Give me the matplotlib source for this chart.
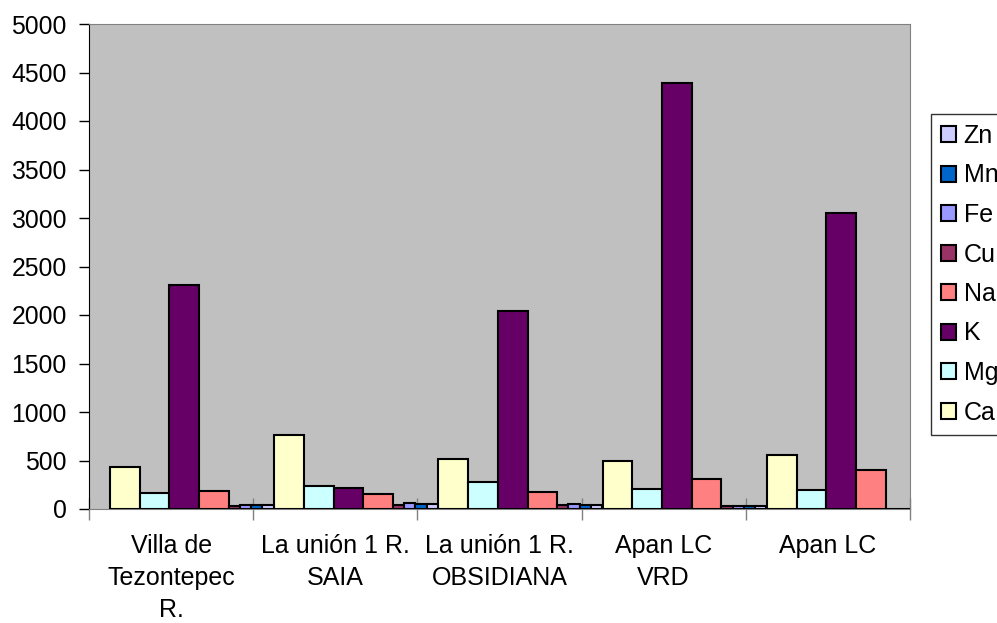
import matplotlib
matplotlib.use("Agg")
import matplotlib.pyplot as plt
import numpy as np
from matplotlib.patches import Patch

plt.rcParams['font.family'] = ['Liberation Sans', 'DejaVu Sans']

categories = ["Villa de\nTezontepec\nR.", "La unión 1 R.\nSAIA", "La unión 1 R.\nOBSIDIANA",
              "Apan LC\nVRD", "Apan LC"]
series_names = ["Ca", "Mg", "K", "Na", "Cu", "Fe", "Mn", "Zn"]
Ca = [430, 760, 520, 490, 560]
Mg = [165, 235, 280, 210, 200]
K = [2310, 220, 2040, 4390, 3050]
Na = [185, 150, 175, 310, 400]
Cu = [35, 45, 40, 30, 0]
Fe = [45, 60, 50, 35, 0]
Mn = [40, 50, 45, 35, 0]
Zn = [40, 50, 45, 30, 0]
yticks = [0, 500, 1000, 1500, 2000, 2500, 3000, 3500, 4000, 4500, 5000]

values = [Ca, Mg, K, Na, Cu, Fe, Mn, Zn]
colors = ["#FFFFCC", "#CCFFFF", "#660066", "#FF8080", "#993366", "#9999FF", "#0066CC", "#CCCCFF"]

W, H = 997, 623
fig = plt.figure(figsize=(W / 100, H / 100), dpi=100)
ax = fig.add_axes([89 / W, 1 - 509 / H, (910 - 89) / W, (509 - 24) / H])
ax.set_facecolor("#C0C0C0")

main_w = 0.181
small_w = 0.068
widths = [main_w] * 4 + [small_w] * 4
offset = 0.128
x = np.arange(len(categories))
for name, vals, col, w in zip(series_names, values, colors, widths):
    ax.bar(x + offset, vals, width=w, align='edge', color=col, edgecolor='black',
           linewidth=1.5, label=name, zorder=3)
    offset += w

ax.set_xlim(0, 5)
ax.set_ylim(0, 5000)
ax.set_yticks(yticks)
ax.set_yticklabels([str(v) for v in yticks], fontsize=17.8)
ax.tick_params(axis='y', direction='out', length=7, width=1, pad=9, colors='black')

ax.set_xticks(np.arange(0, 6))
ax.set_xticklabels([])
ax.tick_params(axis='x', which='major', direction='inout', length=16, width=1, color='#808080')
ax.set_xticks(x + 0.5, minor=True)
ax.set_xticklabels(categories, minor=True, fontsize=18, linespacing=1.42)
ax.tick_params(axis='x', which='minor', length=0, pad=18)

for s in ['top', 'right']:
    ax.spines[s].set_color('#808080')
ax.spines['left'].set_color('black')
ax.spines['bottom'].set_color('#808080')

handles = [Patch(facecolor=c, edgecolor='black', linewidth=1.5, label=n)
           for n, c in zip(series_names, colors)][::-1]
leg = fig.legend(handles=handles, loc='upper left', bbox_to_anchor=(931 / W, 1 - 114 / H),
                 fontsize=18, frameon=True, fancybox=False, edgecolor='black',
                 handlelength=0.6, handleheight=0.6, handletextpad=0.3,
                 labelspacing=0.62, borderpad=0.4, borderaxespad=0)
leg.get_frame().set_linewidth(1)

fig.savefig("out.png", dpi=100)
